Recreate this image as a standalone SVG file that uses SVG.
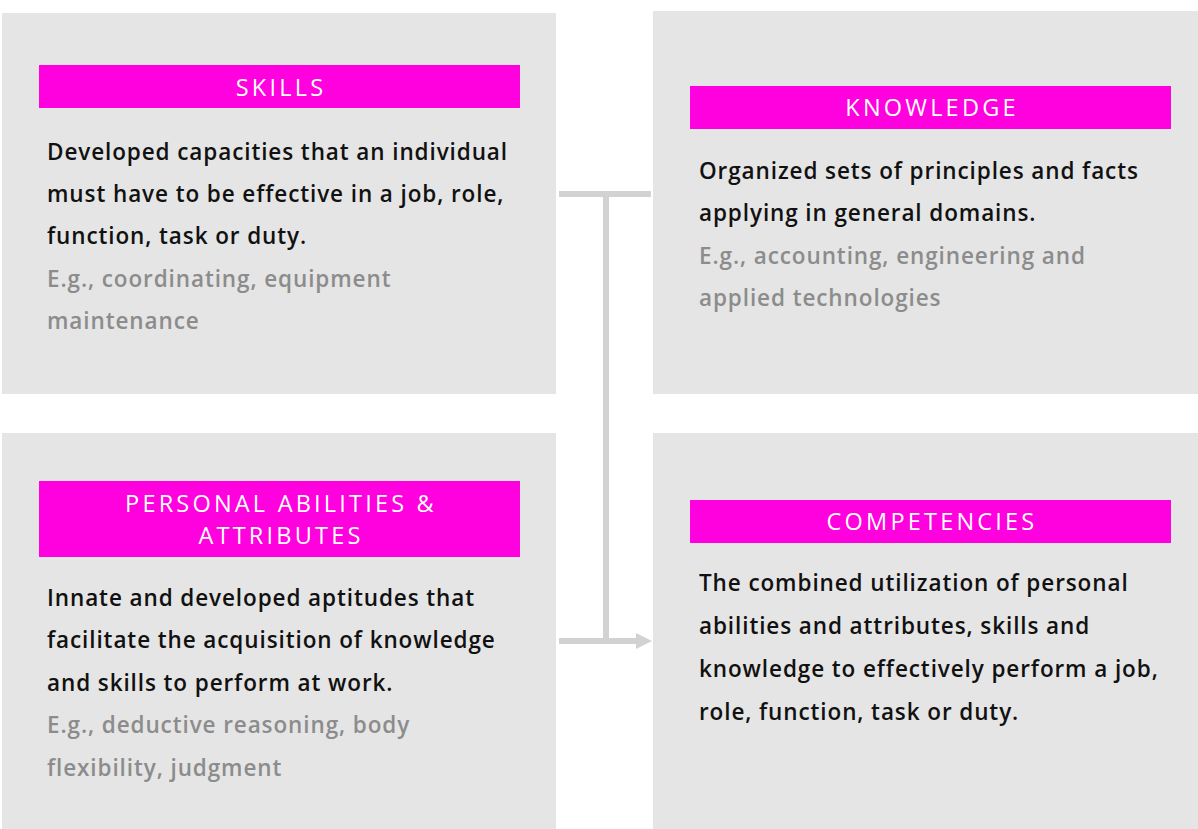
<svg xmlns="http://www.w3.org/2000/svg" width="1198" height="829" viewBox="0 0 1198 829">
<style>
.box{fill:#e5e5e5}
.bar{fill:#ff00de}
.hd{font-family:"Open Sans","Liberation Sans",sans-serif;font-size:23.5px;font-weight:400;fill:#ffffff;text-anchor:middle;letter-spacing:3.2px}
.tx{font-family:"Open Sans","Liberation Sans",sans-serif;font-size:22.5px;font-weight:600;fill:#111111;letter-spacing:0.9px}
.gy{fill:#8c8c8c}
.cn{fill:none;stroke:#d2d2d2;stroke-width:6}
</style>
<defs>
<marker id="ah" markerUnits="userSpaceOnUse" markerWidth="16" markerHeight="18" refX="0" refY="9" orient="auto">
<path d="M0,1 L16,9 L0,17 Z" fill="#d2d2d2"/>
</marker>
</defs>
<rect width="1198" height="829" fill="#ffffff"/>
<g id="connectors">
<path class="cn" d="M559,194 H651"/>
<path class="cn" d="M606,194 V641"/>
<path class="cn" d="M559,641 H636" marker-end="url(#ah)"/>
</g>
<g id="skills">
<rect class="box" x="2" y="13" width="554" height="381"/>
<rect class="bar" x="39" y="65" width="481" height="43"/>
<text class="hd" x="281" y="95.5">SKILLS</text>
<text class="tx" x="47" y="160">Developed capacities that an individual</text>
<text class="tx" x="47" y="202">must have to be effective in a job, role,</text>
<text class="tx" x="47" y="244">function, task or duty.</text>
<text class="tx gy" x="47" y="287">E.g., coordinating, equipment</text>
<text class="tx gy" x="47" y="329">maintenance</text>
</g>
<g id="knowledge">
<rect class="box" x="653" y="11" width="545" height="383"/>
<rect class="bar" x="690" y="86" width="481" height="43"/>
<text class="hd" x="932" y="115.5">KNOWLEDGE</text>
<text class="tx" x="699" y="179">Organized sets of principles and facts</text>
<text class="tx" x="699" y="221">applying in general domains.</text>
<text class="tx gy" x="699" y="264">E.g., accounting, engineering and</text>
<text class="tx gy" x="699" y="306">applied technologies</text>
</g>
<g id="personal">
<rect class="box" x="2" y="433" width="554" height="396"/>
<rect class="bar" x="39" y="481" width="481" height="76"/>
<text class="hd" x="281" y="511.5">PERSONAL ABILITIES &amp;</text>
<text class="hd" x="281" y="543.5">ATTRIBUTES</text>
<text class="tx" x="47" y="606">Innate and developed aptitudes that</text>
<text class="tx" x="47" y="648">facilitate the acquisition of knowledge</text>
<text class="tx" x="47" y="691">and skills to perform at work.</text>
<text class="tx gy" x="47" y="733">E.g., deductive reasoning, body</text>
<text class="tx gy" x="47" y="776">flexibility, judgment</text>
</g>
<g id="competencies">
<rect class="box" x="653" y="433" width="545" height="396"/>
<rect class="bar" x="690" y="500" width="481" height="43"/>
<text class="hd" x="932" y="529.5">COMPETENCIES</text>
<text class="tx" x="699" y="591">The combined utilization of personal</text>
<text class="tx" x="699" y="634">abilities and attributes, skills and</text>
<text class="tx" x="699" y="677">knowledge to effectively perform a job,</text>
<text class="tx" x="699" y="720">role, function, task or duty.</text>
</g>
</svg>
